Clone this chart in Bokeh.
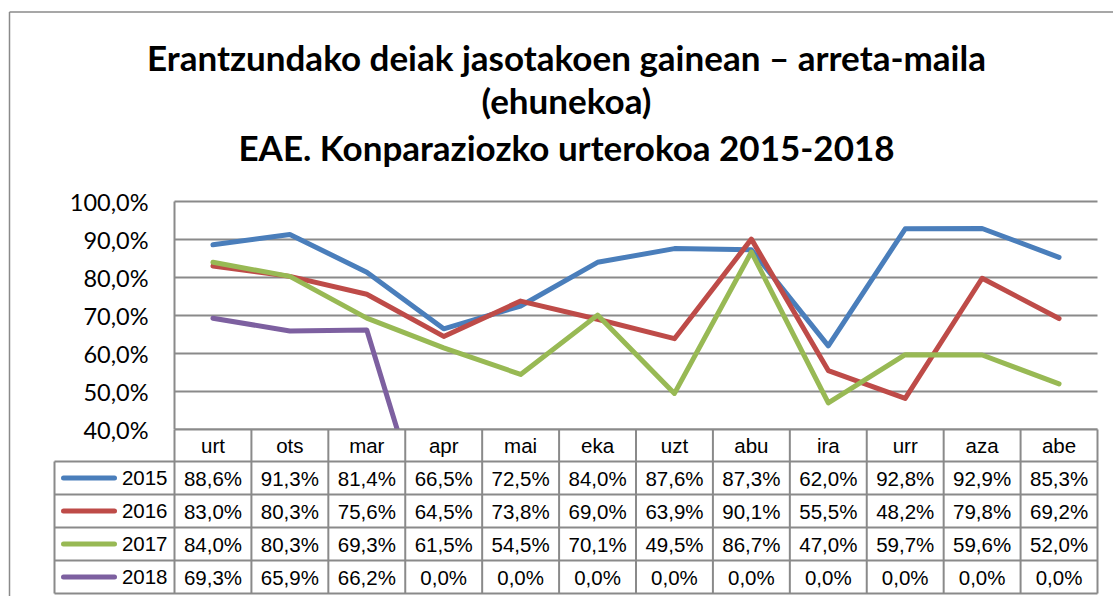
from bokeh.plotting import figure
from bokeh.models import Range1d
from bokeh.core.properties import value
from bokeh.embed import file_html
from bokeh.resources import INLINE

# ---------------- data ----------------
TITLE_LINES = [
    "Erantzundako deiak jasotakoen gainean \u2013 arreta-maila",
    "(ehunekoa)",
    "EAE. Konparaziozko urterokoa 2015-2018",
]
MONTHS = ["urt", "ots", "mar", "apr", "mai", "eka", "uzt", "abu", "ira", "urr", "aza", "abe"]
YEARS = ["2015", "2016", "2017", "2018"]
S2015 = [88.6, 91.3, 81.4, 66.5, 72.5, 84.0, 87.6, 87.3, 62.0, 92.8, 92.9, 85.3]
S2016 = [83.0, 80.3, 75.6, 64.5, 73.8, 69.0, 63.9, 90.1, 55.5, 48.2, 79.8, 69.2]
S2017 = [84.0, 80.3, 69.3, 61.5, 54.5, 70.1, 49.5, 86.7, 47.0, 59.7, 59.6, 52.0]
S2018 = [69.3, 65.9, 66.2, 0.0, 0.0, 0.0, 0.0, 0.0, 0.0, 0.0, 0.0, 0.0]
SERIES = [S2015, S2016, S2017, S2018]
Y_TICKS = [40, 50, 60, 70, 80, 90, 100]

# ---------------- style / layout (image pixels) ----------------
COLORS = ["#4A7EBB", "#BE4B48", "#98B954", "#7D60A0"]
GRID = "#8a8a8a"
BORDER = "#8a8a8a"
PAGE_L, PAGE_T, W, H = 0, 0, 1113, 596
CH_L, CH_R, CH_T, CH_B = 174, 1097, 201, 429          # plot area
TITLE_X, TITLE_YS = 566, [56, 99, 146]
YLAB_R = 148
HEADER_Y = 445
ROW_EDGES = [461, 494, 527, 560, 593]
LEG_L, LEG_S0, LEG_S1, YEAR_R = 54, 63, 114, 167
BORDER_X, BORDER_Y = 9, 11.5
TABLE_FONT = "Liberation Sans"

n = len(MONTHS)
ymin, ymax = Y_TICKS[0], Y_TICKS[-1]
CELL_W = (CH_R - CH_L) / n
PX_PER_UNIT = (CH_B - CH_T) / (ymax - ymin)


def X(px):
    return (px - CH_L) / CELL_W


def Y(py):
    return ymin + (CH_B - py) / PX_PER_UNIT


def fmt(v):
    return ("%.1f%%" % v).replace(".", ",")


xs = [i + 0.5 for i in range(n)]

p = figure(width=W, height=H, title=None,
           x_range=Range1d(X(PAGE_L), X(PAGE_L + W)),
           y_range=Range1d(Y(PAGE_T + H), Y(PAGE_T)),
           min_border=0, x_axis_type=None, y_axis_type=None,
           output_backend="svg", toolbar_location=None)
p.xgrid.visible = False
p.ygrid.visible = False
p.outline_line_color = None
p.background_fill_color = "white"
p.border_fill_color = "white"

# title
p.text(x=[X(TITLE_X)] * 3, y=[Y(v) for v in TITLE_YS], text=TITLE_LINES,
       text_font=value("Lato"), text_font_style="bold", text_font_size="35px",
       text_align="center", text_baseline="middle", text_color="black")

# gridlines + y axis line
p.segment(x0=[0] * len(Y_TICKS), x1=[n] * len(Y_TICKS), y0=Y_TICKS, y1=Y_TICKS,
          line_color=GRID, line_width=2)
p.segment(x0=[0], x1=[0], y0=[ymin], y1=[ymax], line_color=GRID, line_width=2)

# series lines
for vals, c in zip(SERIES, COLORS):
    p.line(xs, vals, line_color=c, line_width=5, line_join="round", line_cap="round")

# mask below the plot area (acts like the plot-area clip)
p.quad(left=[X(PAGE_L)], right=[X(PAGE_L + W)], top=[ymin], bottom=[Y(PAGE_T + H)],
       fill_color="white", line_color=None)

# y tick labels
p.text(x=[X(YLAB_R)] * len(Y_TICKS), y=Y_TICKS, text=[fmt(v) for v in Y_TICKS],
       text_font=value("Lato"), text_font_size="23.5px", text_align="right",
       text_baseline="middle", text_color="black")

# header row (categories)
hb = list(range(n + 1))
p.segment(x0=[0], x1=[n], y0=[ymin], y1=[ymin], line_color=GRID, line_width=2)
p.segment(x0=hb, x1=hb, y0=[ymin] * len(hb), y1=[Y(ROW_EDGES[0])] * len(hb),
          line_color=GRID, line_width=2)
p.text(x=xs, y=[Y(HEADER_Y)] * n, text=MONTHS, text_font=value(TABLE_FONT),
       text_font_size="20.5px", text_align="center", text_baseline="middle", text_color="black")

# data table
nrows = len(YEARS)
hy = [Y(e) for e in ROW_EDGES]
p.segment(x0=[X(LEG_L)] * len(hy), x1=[n] * len(hy), y0=hy, y1=hy, line_color=GRID, line_width=2)
vx = [X(LEG_L)] + hb
p.segment(x0=vx, x1=vx, y0=[hy[0]] * len(vx), y1=[hy[-1]] * len(vx), line_color=GRID, line_width=2)

row_c = [(hy[r] + hy[r + 1]) / 2 for r in range(nrows)]
p.segment(x0=[X(LEG_S0)] * nrows, x1=[X(LEG_S1)] * nrows, y0=row_c, y1=row_c,
          line_color=COLORS, line_width=5, line_cap="round")
p.text(x=[X(YEAR_R)] * nrows, y=row_c, text=YEARS, text_align="right", text_baseline="middle",
       text_font=value(TABLE_FONT), text_font_size="20.5px", text_color="black")

cx, cy, ct = [], [], []
for r, vals in enumerate(SERIES):
    for i, v in enumerate(vals):
        cx.append(xs[i])
        cy.append(row_c[r])
        ct.append(fmt(v))
p.text(x=cx, y=cy, text=ct, text_align="center", text_baseline="middle",
       text_font=value(TABLE_FONT), text_font_size="20.5px", text_color="black")

# chart-area border (top and left visible)
p.segment(x0=[X(BORDER_X)], x1=[X(PAGE_L + W)], y0=[Y(BORDER_Y)], y1=[Y(BORDER_Y)],
          line_color=BORDER, line_width=1.5)
p.segment(x0=[X(BORDER_X)], x1=[X(BORDER_X)], y0=[Y(BORDER_Y)], y1=[Y(PAGE_T + H)],
          line_color=BORDER, line_width=1.5)

open("out.html", "w").write(file_html(p, INLINE))
